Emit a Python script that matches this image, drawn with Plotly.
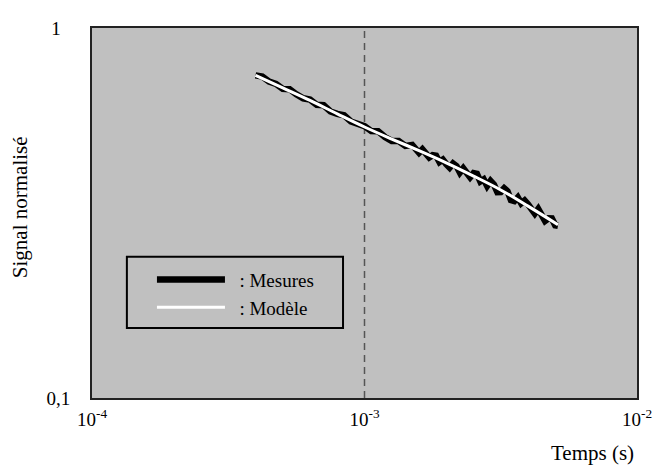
import plotly.graph_objects as go

# --- data ---
t_mesures = [3.981e-4, 4.217e-4, 4.467e-4, 4.732e-4, 5.012e-4, 5.309e-4, 5.623e-4, 5.957e-4,
             6.310e-4, 6.683e-4, 7.079e-4, 7.499e-4, 7.943e-4, 8.414e-4, 8.913e-4, 9.441e-4,
             1.000e-3, 1.059e-3, 1.122e-3, 1.189e-3, 1.259e-3, 1.334e-3, 1.413e-3, 1.496e-3,
             1.585e-3, 1.631e-3, 1.679e-3, 1.728e-3, 1.778e-3, 1.831e-3, 1.884e-3, 1.939e-3,
             1.995e-3, 2.054e-3, 2.113e-3, 2.176e-3, 2.239e-3, 2.304e-3, 2.371e-3, 2.441e-3,
             2.512e-3, 2.585e-3, 2.661e-3, 2.738e-3, 2.818e-3, 2.901e-3, 2.985e-3, 3.073e-3,
             3.162e-3, 3.255e-3, 3.350e-3, 3.447e-3, 3.548e-3, 3.652e-3, 3.758e-3, 3.868e-3,
             3.981e-3, 4.097e-3, 4.217e-3, 4.340e-3, 4.467e-3, 4.597e-3, 4.732e-3, 4.870e-3,
             5.012e-3, 5.129e-3]
signal_mesures = [0.7447, 0.7391, 0.7162, 0.7065, 0.6846, 0.6835, 0.6622, 0.6456,
                  0.6406, 0.6200, 0.6183, 0.5948, 0.5861, 0.5810, 0.5589, 0.5508,
                  0.5427, 0.5264, 0.5262, 0.5074, 0.4952, 0.4950, 0.4802, 0.4829,
                  0.4599, 0.4698, 0.4570, 0.4469, 0.4530, 0.4516, 0.4343, 0.4407,
                  0.4290, 0.4196, 0.4303, 0.4234, 0.4066, 0.4177, 0.4064, 0.3951,
                  0.4053, 0.4033, 0.3848, 0.3899, 0.3742, 0.3860, 0.3773, 0.3599,
                  0.3603, 0.3689, 0.3620, 0.3427, 0.3405, 0.3485, 0.3360, 0.3418,
                  0.3336, 0.3251, 0.3150, 0.3243, 0.3089, 0.3010, 0.3059, 0.3057,
                  0.2929, 0.2920]

t_modele = [3.981e-4, 5.012e-4, 6.310e-4, 7.943e-4, 1.000e-3, 1.259e-3, 1.585e-3,
            1.995e-3, 2.512e-3, 3.162e-3, 3.981e-3, 5.129e-3]
signal_modele = [0.745, 0.689, 0.637, 0.586, 0.540, 0.501, 0.466, 0.432, 0.398, 0.365,
                 0.330, 0.294]

t_reference = [1e-3, 1e-3]
signal_reference = [0.1, 1.0]

x_tickvals = [1e-4, 1e-3, 1e-2]
x_ticktext = ["10<sup>-4</sup>", "10<sup>-3</sup>", "10<sup>-2</sup>"]
y_tickvals = [0.1, 1]
y_ticktext = ["0,1", "1&nbsp;&nbsp;"]

FONT = "Liberation Serif, Times New Roman, serif"

fig = go.Figure()
fig.add_trace(go.Scatter(x=t_reference, y=signal_reference, mode="lines",
                         line=dict(color="#555555", width=1.5, dash="7px,5px"),
                         showlegend=False, hoverinfo="skip"))
fig.add_trace(go.Scatter(x=t_mesures, y=signal_mesures, mode="lines",
                         name="\u00a0\u00a0: Mesures",
                         line=dict(color="black", width=6.5)))
fig.add_trace(go.Scatter(x=t_modele, y=signal_modele, mode="lines",
                         name="\u00a0\u00a0: Modèle",
                         line=dict(color="white", width=3, shape="spline")))

# the page body has an 8px margin, so the figure is 8px smaller on each used side
fig.update_layout(
    width=661, height=460,
    margin=dict(l=84, r=32, t=10, b=70),
    paper_bgcolor="white", plot_bgcolor="#c0c0c0",
    font=dict(family=FONT, size=19, color="black"),
    showlegend=True,
    legend=dict(x=0.110, y=0.371, xanchor="left", yanchor="top",
                bgcolor="rgba(0,0,0,0)", borderwidth=0, itemwidth=68,
                font=dict(family=FONT, size=19), tracegroupgap=0),
    xaxis=dict(type="log", range=[-4, -2], tickvals=x_tickvals, ticktext=x_ticktext,
               showgrid=False, zeroline=False, showline=True, mirror=True,
               linecolor="#222222", linewidth=2, ticks="", ticklabelstandoff=3,
               tickfont=dict(family=FONT, size=19)),
    yaxis=dict(type="log", range=[-1, 0], tickvals=y_tickvals, ticktext=y_ticktext,
               showgrid=False, zeroline=False, showline=True, mirror=True,
               linecolor="#222222", linewidth=2, ticks="", ticklabelstandoff=16,
               tickfont=dict(family=FONT, size=19)),
    shapes=[dict(type="rect", xref="paper", yref="paper",
                 x0=0.064, x1=0.4606, y0=0.1895, y1=0.3816,
                 line=dict(color="black", width=2), fillcolor="rgba(0,0,0,0)")],
    annotations=[
        dict(text="Signal normalisé", xref="paper", yref="paper", x=-0.132, y=0.516,
             xanchor="center", yanchor="middle", textangle=-90, showarrow=False,
             font=dict(family=FONT, size=21)),
        dict(text="Temps (s)", xref="paper", yref="paper", x=0.919, y=-0.15,
             xanchor="center", yanchor="middle", showarrow=False,
             font=dict(family=FONT, size=21)),
    ],
)

fig.write_html("out.html")
